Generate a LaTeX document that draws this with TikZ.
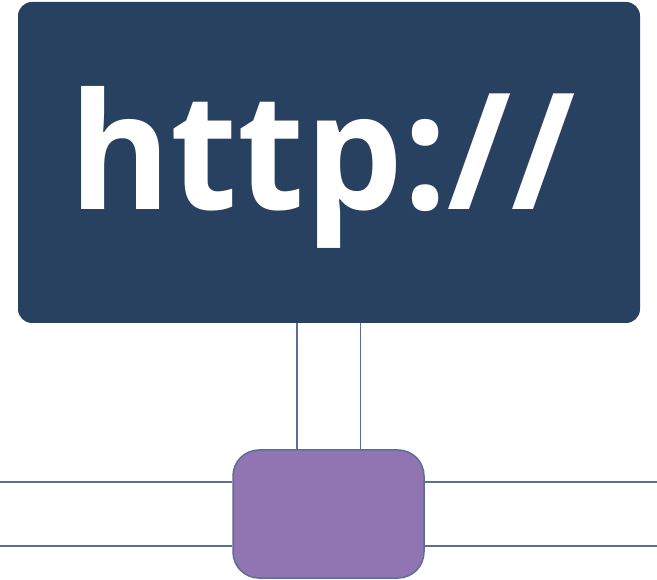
\documentclass[tikz,border=0pt]{standalone}
\usepackage{fontspec}
\setmainfont{Open Sans}
\definecolor{webblue}{HTML}{294160}
\definecolor{procpurple}{HTML}{9175B3}
\definecolor{linegray}{HTML}{5B6F94}
\begin{document}
\begin{tikzpicture}[x=1pt,y=-1pt,
  wire/.style={draw=linegray,line width=1.5pt},
  webbox/.style={fill=webblue,rounded corners=14pt,minimum width=622pt,minimum height=321pt,inner sep=0pt},
  procbox/.style={fill=procpurple,draw=linegray,line width=1.5pt,rounded corners=26pt,minimum width=191pt,minimum height=128pt,inner sep=0pt},
  bigtext/.style={text=white,font=\fontsize{162}{162}\selectfont\bfseries,inner sep=0pt,xscale=0.955}]
\useasboundingbox (0,0) rectangle (657,580);
\node[webbox] (web) at (329,162.5) {};
\node[bigtext,anchor=base west] (url) at (69,210) {http://};
\coordinate (a) at (297,0);
\coordinate (b) at (360.5,0);
\coordinate (L1) at (0,482);
\coordinate (L2) at (0,546);
\coordinate (R1) at (657,482);
\coordinate (R2) at (657,546);
\node[procbox] (proc) at (328.5,514) {};
\draw[wire] (web.south -| a) -- (proc.north -| a);
\draw[wire] (web.south -| b) -- (proc.north -| b);
\draw[wire] (L1) -- (L1 -| proc.west);
\draw[wire] (L2) -- (L2 -| proc.west);
\draw[wire] (R1) -- (R1 -| proc.east);
\draw[wire] (R2) -- (R2 -| proc.east);
\end{tikzpicture}
\end{document}
